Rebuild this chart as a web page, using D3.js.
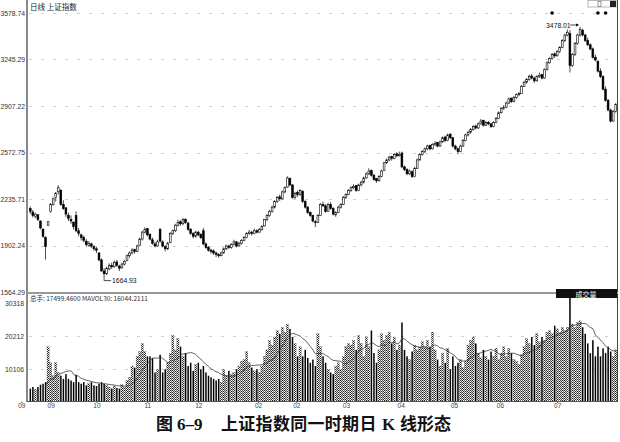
<!DOCTYPE html>
<html><head><meta charset="utf-8">
<script src="https://cdn.jsdelivr.net/npm/d3@7"></script>
<style>body{margin:0;background:#fff}svg{display:block}</style>
</head><body><svg id="c" width="620" height="442"></svg>
<script>
// ---- data ----
const opens=[2170,2145,2115,2125,2080,2020,1960,2050,2150,2200,
2250,2290,2300,2200,2175,2120,2090,2070,2120,2010,
1980,1960,1935,1905,1915,1895,1880,1850,1800,1720,
1700,1735,1760,1750,1785,1755,1745,1770,1795,1830,
1850,1875,1860,1905,1950,2000,2025,1985,1945,1915,
1900,2020,1930,1895,1880,1925,1990,2010,2050,2075,
2060,2090,2065,2020,1990,1970,2000,1985,2010,1915,
1890,1870,1865,1850,1840,1830,1850,1880,1900,1890,
1910,1930,1900,1920,1940,1960,1990,2000,1990,2010,
2000,2020,2045,2090,2120,2150,2180,2220,2255,2240,
2290,2325,2385,2340,2250,2285,2270,2295,2220,2180,
2140,2120,2075,2070,2120,2200,2190,2150,2200,2170,
2125,2140,2180,2200,2250,2270,2300,2320,2335,2300,
2340,2360,2390,2420,2445,2410,2385,2370,2400,2445,
2500,2520,2545,2530,2565,2550,2570,2470,2450,2420,
2435,2400,2460,2520,2560,2580,2600,2625,2600,2630,
2645,2620,2650,2685,2660,2705,2680,2620,2600,2580,
2620,2660,2700,2720,2740,2765,2750,2780,2805,2770,
2790,2780,2760,2790,2820,2860,2890,2900,2930,2965,
2940,2970,2990,3000,3050,3080,3100,3125,3110,3090,
3120,3135,3110,3170,3220,3250,3285,3270,3300,3330,
3380,3420,3430,3200,3280,3360,3420,3455,3420,3380,
3350,3320,3260,3230,3160,3120,3030,2950,2880,2800,
2870];
const highs=[2185,2160,2140,2130,2085,2030,1970,2080,2210,2250,
2290,2338,2310,2230,2180,2140,2120,2080,2150,2030,
1990,1975,1950,1935,1925,1905,1895,1855,1810,1740,
1750,1775,1780,1795,1800,1765,1780,1800,1840,1860,
1885,1880,1910,1960,2010,2035,2030,1990,1960,1930,
1945,2030,1940,1905,1930,2000,2020,2060,2090,2085,
2100,2100,2075,2030,2000,2010,2010,1990,2030,1925,
1900,1880,1875,1860,1850,1860,1890,1910,1910,1920,
1945,1935,1930,1950,1970,2000,2015,2010,2025,2020,
2030,2050,2095,2130,2160,2190,2230,2260,2270,2300,
2330,2402,2395,2345,2290,2300,2310,2300,2230,2190,
2150,2125,2085,2130,2210,2220,2200,2210,2215,2180,
2150,2190,2210,2260,2280,2310,2330,2345,2340,2350,
2370,2400,2430,2460,2450,2420,2390,2410,2450,2505,
2530,2550,2550,2570,2575,2580,2580,2480,2460,2450,
2445,2470,2530,2570,2590,2610,2630,2630,2640,2655,
2650,2660,2690,2695,2710,2715,2685,2630,2610,2630,
2670,2710,2730,2750,2770,2775,2790,2815,2810,2800,
2800,2785,2800,2830,2870,2900,2915,2940,2970,2970,
2980,3000,3010,3060,3090,3110,3135,3140,3120,3130,
3150,3140,3180,3230,3260,3290,3295,3310,3340,3390,
3430,3460,3455,3290,3370,3430,3478.01,3465,3430,3400,
3360,3330,3280,3240,3180,3130,3050,2960,2890,2880,
2930];
const lows=[2130,2105,2100,2080,2020,1960,1802,2045,2140,2190,
2220,2270,2190,2160,2110,2080,2060,2020,2000,1970,
1940,1925,1895,1895,1885,1865,1850,1790,1715,1664.93,
1690,1725,1735,1745,1750,1720,1735,1760,1790,1815,
1840,1845,1855,1900,1940,1990,1970,1940,1910,1890,
1895,1925,1890,1860,1870,1920,1980,2000,2040,2045,
2050,2060,2010,1980,1955,1960,1970,1950,1905,1880,
1860,1845,1835,1820,1815,1825,1845,1870,1880,1880,
1905,1890,1895,1910,1935,1955,1980,1975,1985,1990,
1995,2010,2040,2080,2110,2140,2170,2210,2225,2235,
2280,2320,2330,2240,2240,2255,2260,2210,2170,2130,
2110,2070,2037,2065,2115,2180,2140,2145,2160,2120,
2110,2135,2170,2195,2240,2265,2290,2310,2290,2295,
2330,2350,2385,2410,2400,2370,2355,2365,2395,2440,
2490,2510,2515,2525,2540,2545,2460,2440,2410,2410,
2390,2395,2455,2515,2550,2570,2590,2590,2595,2620,
2610,2615,2645,2650,2655,2670,2610,2590,2560,2575,
2615,2655,2690,2710,2730,2740,2745,2775,2760,2765,
2770,2750,2755,2785,2815,2855,2880,2895,2925,2930,
2935,2960,2980,2995,3045,3070,3090,3100,3075,3085,
3110,3100,3105,3165,3215,3240,3255,3265,3290,3325,
3370,3410,3150,3190,3270,3350,3410,3410,3370,3340,
3310,3250,3230,3150,3110,3020,2940,2870,2790,2795,
2860];
const closes=[2150,2120,2130,2090,2030,1970,1895,2075,2200,2240,
2280,2320,2200,2170,2130,2100,2080,2040,2010,1990,
1960,1940,1910,1920,1900,1880,1870,1800,1720,1700,
1740,1760,1750,1780,1760,1740,1770,1790,1830,1850,
1870,1860,1900,1950,2000,2020,1980,1950,1920,1900,
1930,1935,1900,1880,1920,1990,2010,2050,2070,2060,
2090,2070,2020,1990,1970,2000,1980,1960,1915,1890,
1870,1860,1850,1840,1830,1850,1880,1900,1890,1910,
1930,1900,1920,1940,1960,1990,2000,1990,2010,2000,
2020,2040,2090,2120,2150,2180,2220,2250,2240,2290,
2320,2390,2340,2250,2280,2270,2300,2220,2180,2140,
2120,2080,2070,2120,2200,2190,2150,2200,2170,2130,
2140,2180,2200,2250,2270,2300,2320,2330,2300,2340,
2360,2390,2420,2440,2410,2380,2370,2400,2440,2500,
2520,2540,2530,2560,2550,2560,2470,2450,2420,2440,
2400,2460,2520,2560,2580,2600,2620,2600,2630,2640,
2620,2650,2680,2660,2700,2680,2620,2600,2580,2620,
2660,2700,2720,2740,2760,2750,2780,2800,2770,2790,
2780,2760,2790,2820,2860,2890,2900,2930,2960,2940,
2970,2990,3000,3050,3080,3100,3120,3110,3090,3120,
3130,3110,3170,3220,3250,3280,3270,3300,3330,3380,
3420,3440,3200,3280,3360,3420,3460,3420,3380,3350,
3320,3260,3240,3160,3120,3030,2950,2880,2800,2870,
2920];
const volumes=[4000,4500,3800,4500,5200,5500,6000,17000,12000,8000,
12000,9000,8000,7000,8500,7000,6500,6000,8300,6000,
5500,6000,5000,5500,6000,5000,4800,5500,6000,5500,
5000,4500,4000,4800,4200,4000,5200,4500,6500,7500,
11000,10500,14000,15500,18000,15500,14000,14000,13500,9000,
10000,14500,9000,10000,12000,15000,20500,16000,19500,17000,
14000,15000,11000,12000,9500,11500,12000,10000,11000,9000,
8000,7500,7000,6500,7000,6000,10000,8000,9500,8500,
9000,10000,11000,12500,13000,15500,12000,10500,9500,10000,
9000,11000,14000,16000,19000,17500,20000,22000,21000,23000,
21500,24000,22500,20000,18000,14000,17000,14000,16000,13500,
12000,13000,11000,21000,17000,14000,12000,10000,9000,8500,
11000,12000,10000,14000,17000,18000,17500,19000,16000,20500,
18000,14000,20000,17000,22000,15000,12000,16000,21000,19000,
20500,21500,18000,20000,16000,17500,24500,16000,14000,13000,
15500,17500,16000,17000,18500,17000,19000,17000,21500,16000,
13000,11000,15000,12000,16500,10000,14000,11000,12000,13000,
10500,12500,17500,19000,20000,18000,15000,13500,16000,14000,
13000,15500,14000,16500,13000,15000,17000,14000,16500,15000,
13000,12500,11500,14500,17000,19500,18000,20000,17500,21000,
18500,20000,19000,21500,22000,21000,23500,22500,21500,23000,
22000,23000,33000,24000,23000,24500,25000,23000,21000,18000,
15000,19000,14000,17000,14000,16500,15000,17000,15500,14000,
16000];
const priceTicks=[1564.29,1902.24,2235.71,2572.75,2907.22,3245.29,3578.74];
const volTicks=[10106,20212,30318];
const monthLabels=["09","09","10","11","12","02","02","03","04","05","06","07"];
const monthPos=[-3,8.5,26.5,46.5,66.5,90,105,124.5,146,167,185,207.5];
const peakIdx=216, lowIdx=29;
const markIdx=[205,223,226];

// ---- drawing ----
const svg=d3.select('#c');
const N=closes.length;
const x=d3.scaleLinear().domain([0,N]).range([29,617]);
const cx=i=>x(i+0.5);
const yP=d3.scaleLinear().domain([1564.29,3578.74]).range([292.6,13]);
const yV=d3.scaleLinear().domain([0,30318]).range([401.5,303.7]);
const numFont='"Liberation Sans",Arial,sans-serif';
const cjk='"Noto Sans CJK SC",sans-serif';

const defs=svg.append('defs');
const pat=defs.append('pattern').attr('id','hatch').attr('width',2).attr('height',2).attr('patternUnits','userSpaceOnUse');
pat.append('rect').attr('width',2).attr('height',2).attr('fill','#fff');
pat.append('rect').attr('width',1).attr('height',1).attr('fill','#222');
pat.append('rect').attr('x',1).attr('y',1).attr('width',1).attr('height',1).attr('fill','#222');

// grid
svg.append('g').selectAll('line').data(priceTicks.slice(1)).join('line')
  .attr('x1',29).attr('x2',616).attr('y1',d=>Math.round(yP(d))+0.5).attr('y2',d=>Math.round(yP(d))+0.5)
  .attr('stroke','#bbb').attr('stroke-width',0.7).attr('stroke-dasharray','3,9');
svg.append('g').selectAll('line').data(volTicks.slice(0,2)).join('line')
  .attr('x1',29).attr('x2',616).attr('y1',d=>Math.round(yV(d))+0.5).attr('y2',d=>Math.round(yV(d))+0.5)
  .attr('stroke','#bbb').attr('stroke-width',0.7).attr('stroke-dasharray','3,9');

// axes labels
const ay=svg.append('g').attr('transform','translate(27,0)')
  .call(d3.axisLeft(yP).tickValues(priceTicks).tickSize(0).tickPadding(2).tickFormat(d3.format('.2f')));
ay.select('.domain').remove();
ay.selectAll('text').attr('font-family',numFont).attr('font-size',6.8).attr('fill','#333');
const av=svg.append('g').attr('transform','translate(27,0)')
  .call(d3.axisLeft(yV).tickValues(volTicks).tickSize(0).tickPadding(3).tickFormat(d=>d));
av.select('.domain').remove();
av.selectAll('text').attr('font-family',numFont).attr('font-size',6.8).attr('fill','#333');
const ax=svg.append('g').attr('transform','translate(0,401.5)')
  .call(d3.axisBottom(x).tickValues(monthPos).tickSize(1.5).tickPadding(0).tickFormat((d,i)=>monthLabels[i]));
ax.select('.domain').remove();
ax.selectAll('line').attr('stroke','#555');
ax.selectAll('text').attr('font-family',numFont).attr('font-size',6.5).attr('fill','#444');

// volume bars
const idx=d3.range(N);
svg.append('g').selectAll('rect').data(idx).join('rect')
  .attr('x',i=>closes[i]>=opens[i]?cx(i)-1.1:cx(i)-0.7)
  .attr('width',i=>closes[i]>=opens[i]?2.2:1.5)
  .attr('y',i=>yV(volumes[i])).attr('height',i=>yV(0)-yV(volumes[i]))
  .attr('fill',i=>closes[i]>=opens[i]?'url(#hatch)':'#000')
  .attr('stroke',i=>closes[i]>=opens[i]?'#666':'none').attr('stroke-width',0.3);

// MAVOL line
const ma=idx.map(i=>d3.mean(volumes.slice(Math.max(0,i-9),i+1)));
svg.append('path').datum(idx.filter(i=>i>=6))
  .attr('d',d3.line().x(i=>cx(i)).y(i=>yV(ma[i])).curve(d3.curveMonotoneX))
  .attr('fill','none').attr('stroke','#333').attr('stroke-width',0.8);

// candles
const cg=svg.append('g');
cg.selectAll('line').data(idx).join('line')
  .attr('x1',i=>cx(i)).attr('x2',i=>cx(i))
  .attr('y1',i=>yP(highs[i])).attr('y2',i=>yP(lows[i]))
  .attr('stroke','#000').attr('stroke-width',0.7);
cg.selectAll('rect').data(idx).join('rect')
  .attr('x',i=>cx(i)-0.9).attr('width',1.8)
  .attr('y',i=>yP(Math.max(opens[i],closes[i])))
  .attr('height',i=>Math.max(0.8,Math.abs(yP(opens[i])-yP(closes[i]))))
  .attr('fill',i=>closes[i]>=opens[i]?'#fff':'#000')
  .attr('stroke','#000').attr('stroke-width',0.6);

// frame
svg.append('line').attr('x1',27).attr('x2',27).attr('y1',0).attr('y2',402).attr('stroke','#888').attr('stroke-width',2);
svg.append('line').attr('x1',617.5).attr('x2',617.5).attr('y1',0).attr('y2',402).attr('stroke','#444').attr('stroke-width',1);
svg.append('line').attr('x1',27).attr('x2',618).attr('y1',293).attr('y2',293).attr('stroke','#999').attr('stroke-width',2);
svg.append('line').attr('x1',27).attr('x2',618).attr('y1',401.5).attr('y2',401.5).attr('stroke','#555').attr('stroke-width',1);

// titles
svg.append('text').attr('x',30).attr('y',10).attr('font-family',cjk).attr('font-size',7.5).attr('fill','#222').text('日线  上证指数');
svg.append('text').attr('x',30).attr('y',301).attr('font-family',cjk).attr('font-size',6.5).attr('fill','#333').text('总手: 17499.4600  MAVOL30: 16044.2111');
svg.append('rect').attr('x',556).attr('y',289).attr('width',61).attr('height',9).attr('fill','#111');
svg.append('text').attr('x',586).attr('y',296.5).attr('text-anchor','middle').attr('font-family',cjk).attr('font-size',7).attr('fill','#fff').text('成交量');

// toolbar glyph top right
svg.append('rect').attr('x',588).attr('y',0.5).attr('width',28).attr('height',6.5).attr('fill','none').attr('stroke','#888').attr('stroke-width',0.6);
svg.append('rect').attr('x',610).attr('y',1).attr('width',6).attr('height',6).attr('fill','#222');
svg.append('rect').attr('x',598).attr('y',1.5).attr('width',3).attr('height',5).attr('fill','none').attr('stroke','#555').attr('stroke-width',0.6);

// marker dots
svg.append('g').selectAll('circle').data(markIdx).join('circle')
  .attr('cx',i=>cx(i)).attr('cy',13).attr('r',1.8).attr('fill','#000');

// peak annotation
const px=cx(peakIdx), py=yP(highs[peakIdx]);
svg.append('text').attr('x',px-34).attr('y',py+1).attr('font-family',numFont).attr('font-size',6.8).attr('fill','#111').text('3478.01');
svg.append('line').attr('x1',px-10).attr('x2',px-2).attr('y1',py-2).attr('y2',py-2).attr('stroke','#000').attr('stroke-width',0.7);
svg.append('path').attr('d',`M${px-1},${py-2} l-3,-1.5 l0,3 z`).attr('fill','#000');

// low annotation
const lx=cx(lowIdx), ly=yP(lows[lowIdx]);
svg.append('path').attr('d',`M${lx},${ly} L${lx},${ly+2} L${lx+7},${ly+2}`).attr('fill','none').attr('stroke','#000').attr('stroke-width',0.7);
svg.append('text').attr('x',lx+8).attr('y',ly+4.5).attr('font-family',numFont).attr('font-size',6.8).attr('fill','#111').text('1664.93');

// caption
const cap=svg.append('text').attr('y',430).attr('font-family',cjk).attr('font-size',17).attr('font-weight','bold').attr('fill','#111');
cap.append('tspan').attr('x',156).text('图');
cap.append('tspan').attr('x',177).attr('font-family','"Liberation Serif",serif').text('6–9');
cap.append('tspan').attr('x',221).attr('letter-spacing',0.3).text('上证指数同一时期日');
cap.append('tspan').attr('x',382).attr('font-family','"Liberation Serif",serif').text('K');
cap.append('tspan').attr('x',400).text('线形态');
</script></body></html>
